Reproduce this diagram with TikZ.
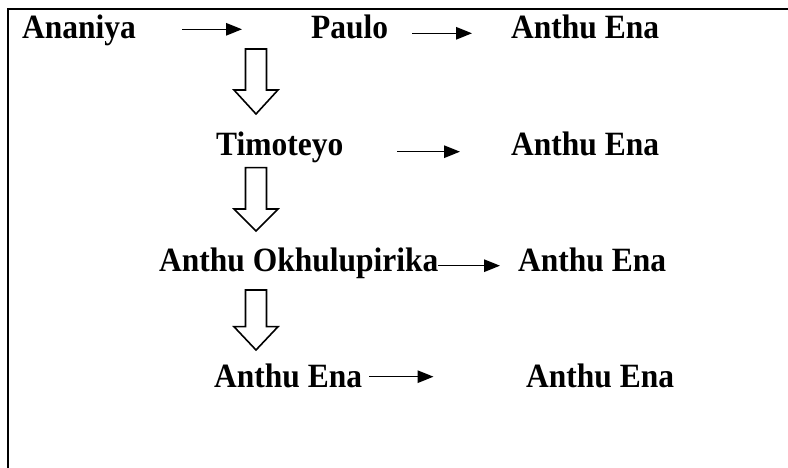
\documentclass[tikz,border=0pt]{standalone}
\usepackage{fontspec}
\setmainfont{Liberation Serif}
\usetikzlibrary{arrows.meta}
\tikzset{
  lbl/.style={anchor=base west, inner sep=0pt, font=\bfseries\fontsize{31.5}{36}\selectfont, yscale=1.08},
  thinarrow/.style={line width=1.4pt, -{Triangle[length=16pt,width=12.5pt]}},
  hollow/.style={line width=1.6pt, line join=miter, fill=white},
  frameline/.style={line width=2.4pt, line cap=rect}
}
\begin{document}
\begin{tikzpicture}[x=1pt,y=1pt]
\useasboundingbox (0,0) rectangle (788,468);
% frame (top and left edges only)
\coordinate (fbl) at (7.7,0);
\coordinate (ftl) at (7.7,458.8);
\coordinate (ftr) at (788,458.8);
\draw[frameline] (fbl) -- (ftl) -- (ftr);

% text nodes
\node[lbl] (ananiya) at (22,429) {Ananiya};
\node[lbl] (paulo)   at (311,429) {Paulo};
\node[lbl] (ena1)    at (511,429) {Anthu Ena};
\node[lbl] (timo)    at (216,312.5) {Timoteyo};
\node[lbl] (ena2)    at (511,312.5) {Anthu Ena};
\node[lbl] (okhu)    at (159,196) {Anthu Okhulupirika};
\node[lbl] (ena3)    at (518,196) {Anthu Ena};
\node[lbl] (ena4)    at (214,80.5) {Anthu Ena};
\node[lbl] (ena5)    at (526,80.5) {Anthu Ena};

% thin arrow end points
\coordinate (a1s) at (182,438.7); \coordinate (a1e) at (242,438.7);
\coordinate (a2s) at (412,434.7); \coordinate (a2e) at (472,434.7);
\coordinate (a3s) at (397,316.3); \coordinate (a3e) at (460,316.3);
\coordinate (a4s) at (438,202.3); \coordinate (a4e) at (500,202.3);
\coordinate (a5s) at (369,91.3);  \coordinate (a5e) at (433.5,91.3);
\draw[thinarrow] (a1s) -- (a1e);
\draw[thinarrow] (a2s) -- (a2e);
\draw[thinarrow] (a3s) -- (a3e);
\draw[thinarrow] (a4s) -- (a4e);
\draw[thinarrow] (a5s) -- (a5e);

% hollow block arrows pointing down
\draw[hollow] (245.5,419) -- (266.5,419) -- (266.5,378) -- (278,378) -- (256,354) -- (234,378) -- (245.5,378) -- cycle;
\draw[hollow] (245.5,300.3) -- (266.5,300.3) -- (266.5,259) -- (278,259) -- (256,237) -- (234,259) -- (245.5,259) -- cycle;
\draw[hollow] (245.5,178) -- (266.5,178) -- (266.5,141.3) -- (278,141.3) -- (256,118) -- (234,141.3) -- (245.5,141.3) -- cycle;
\end{tikzpicture}
\end{document}
